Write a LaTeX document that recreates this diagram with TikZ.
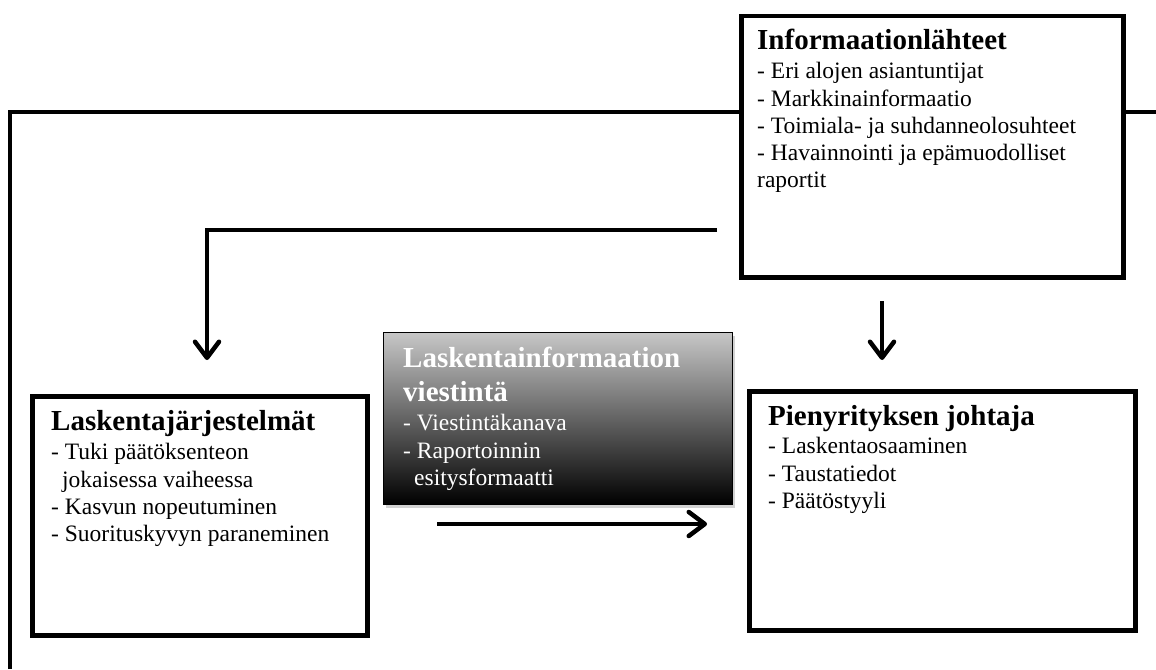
\documentclass[tikz,border=0pt]{standalone}
\usepackage{fontspec}
\setmainfont{Liberation Serif}
\usetikzlibrary{arrows.meta,shadows}
\newcommand\ttlfont{\fontsize{29}{34}\selectfont\bfseries}
\newcommand\bdyfont{\fontsize{23.5}{27.3}\selectfont\mdseries}
\begin{document}
\begin{tikzpicture}[x=1pt,y=-1pt,
  box/.style={draw=black, line width=4.5pt, fill=white, rectangle, inner sep=0pt, anchor=north west},
  gbox/.style={draw=black, line width=1pt, rectangle, inner sep=0pt, anchor=north west,
    top color=black!22, bottom color=black,
    drop shadow={opacity=0.35, shadow xshift=2pt, shadow yshift=-3pt}},
  conn/.style={line width=4.5pt, draw=black},
  arr/.style={conn, -{Straight Barb[length=16pt,width=24pt,line width=4.5pt,round]}},
  txt/.style={anchor=base west, inner sep=0pt, align=left}]
\useasboundingbox (0,0) rectangle (1156,669);
\fill[white] (0,0) rectangle (1156,669);

% boxes
\node[box, minimum width=382, minimum height=261] (info) at (739,14) {};
\node[box, minimum width=335, minimum height=239] (lask) at (30,394) {};
\node[box, minimum width=386, minimum height=239] (pien) at (747,389) {};
\node[gbox, minimum width=349, minimum height=172] (viest) at (383,332) {};

% coordinates for connector ends
\coordinate (ly) at (0,112);
\coordinate (loopstart) at (10,669);
\coordinate (loopend) at (1156,112);
\coordinate (c2s) at (717,230);
\coordinate (c2e) at (207,360);
\coordinate (c3s) at (882,301);
\coordinate (c3e) at (882,360);
\coordinate (c4s) at (437,524);
\coordinate (c4e) at (707,524);

% connectors
\draw[conn] (loopstart) |- (info.west |- ly);
\draw[conn] (info.east |- ly) -- (loopend);
\draw[arr] (c2s) -| (c2e);
\draw[arr] (c3s) -- (c3e);
\draw[arr] (c4s) -- (c4e);

% texts
\node[txt] (infotxt) at (757,50) {\parbox[t]{360pt}{\ttlfont Informaationlähteet\par\vspace{1.5pt}\bdyfont
- Eri alojen asiantuntijat\\
- Markkinainformaatio\\
- Toimiala- ja suhdanneolosuhteet\\
- Havainnointi ja epämuodolliset\\
raportit}};

\node[txt] (lasktxt) at (51,430) {\parbox[t]{310pt}{\ttlfont Laskentajärjestelmät\par\vspace{2.5pt}\bdyfont
- Tuki päätöksenteon\\
\hspace*{11pt}jokaisessa vaiheessa\\
- Kasvun nopeutuminen\\
- Suorituskyvyn paraneminen}};

\node[txt, text=white] (viesttxt) at (403,367) {\parbox[t]{320pt}{\ttlfont Laskentainformaation\\viestintä\par\vspace{2.5pt}\bdyfont
- Viestintäkanava\\
- Raportoinnin\\
\hspace*{11pt}esitysformaatti}};

\node[txt] (pientxt) at (768,425) {\parbox[t]{360pt}{\ttlfont Pienyrityksen johtaja\par\vspace{1.5pt}\bdyfont
- Laskentaosaaminen\\
- Taustatiedot\\
- Päätöstyyli}};
\end{tikzpicture}
\end{document}
